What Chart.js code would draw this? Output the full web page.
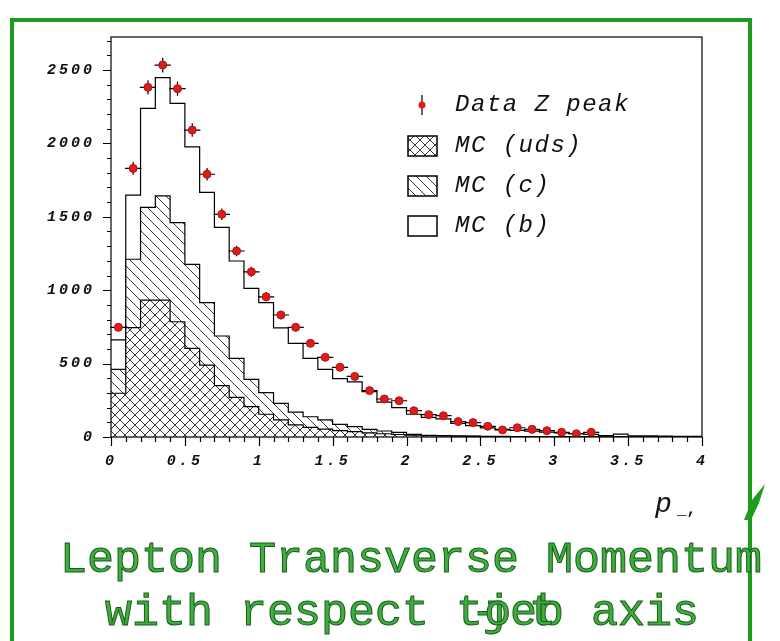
<!DOCTYPE html>
<html><head><meta charset="utf-8">
<script src="https://cdn.jsdelivr.net/npm/chart.js@4.4.0/dist/chart.umd.min.js"></script>
<style>html,body{margin:0;padding:0;background:#fff;overflow:hidden}</style>
</head><body>
<canvas id="c" width="780" height="641" style="width:780px;height:641px;display:block"></canvas>
<script>
// ---- data ----
const binWidth = 0.1;
const binLow = [0.0,0.1,0.2,0.3,0.4,0.5,0.6,0.7,0.8,0.9,1.0,1.1,1.2,1.3,1.4,1.5,1.6,1.7,1.8,1.9,
                2.0,2.1,2.2,2.3,2.4,2.5,2.6,2.7,2.8,2.9,3.0,3.1,3.2,3.3,3.4,3.5,3.6,3.7,3.8,3.9];
const mcUds = [298,745,933,933,785,604,490,350,270,207,155,116,82,66,54,44,36,28,22,17,
               12,9,7,5,4,3,3,2,2,1,1,1,0,0,0,0,0,0,0,0];
const mcC   = [163,466,632,709,675,572,425,338,266,186,147,113,88,72,62,42,34,24,19,15,
               6,3,3,3,2,2,1,1,1,1,1,0,1,1,1,0,0,0,0,0];
const mcB   = [200,437,674,806,813,801,752,740,663,620,613,514,468,398,345,311,305,257,197,168,
               137,122,113,85,71,57,48,42,37,31,26,21,17,9,19,8,8,6,5,4];
const dataX = [0.05,0.15,0.25,0.35,0.45,0.55,0.65,0.75,0.85,0.95,1.05,1.15,1.25,1.35,1.45,1.55,1.65,
               1.75,1.85,1.95,2.05,2.15,2.25,2.35,2.45,2.55,2.65,2.75,2.85,2.95,3.05,3.15,3.25];
const dataY = [747,1830,2382,2534,2373,2091,1790,1517,1267,1125,955,831,747,638,543,475,413,
               316,259,247,179,152,145,105,98,73,48,63,52,43,32,22,32];
const dataErr = [27,43,49,50,49,46,42,39,36,34,31,29,27,25,23,22,20,
                 18,16,16,13,12,12,10,10,9,7,8,7,7,6,5,6];
const xTickValues = [0,0.5,1,1.5,2,2.5,3,3.5,4];
const xTickLabels = ['0','0.5','1','1.5','2','2.5','3','3.5','4'];
const yTickValues = [0,500,1000,1500,2000,2500];
const yTickLabels = ['0','500','1000','1500','2000','2500'];
const xRange = [0,4];
const yRange = [0,2725];
const legendLabels = ['Data Z peak','MC (uds)','MC (c)','MC (b)'];
const titleLine1 = 'Lepton Transverse Momentum';
const titleLine2 = 'with respect tjeb axis';
const xAxisLabel = 'p';

// ---- helpers ----
function cumulative(...arrs){ return arrs[0].map((_,i)=>arrs.reduce((s,a)=>s+a[i],0)); }
function stepPoints(levels){
  const pts = binLow.map((x,i)=>({x:x, y:levels[i]}));
  pts.push({x: binLow[binLow.length-1]+binWidth, y: levels[levels.length-1]});
  return pts;
}
function makePattern(cross){
  const s = 10, cv = document.createElement('canvas'); cv.width = s; cv.height = s;
  const g = cv.getContext('2d');
  g.fillStyle = '#fff'; g.fillRect(0,0,s,s);
  g.strokeStyle = '#222'; g.lineWidth = 0.9;
  g.beginPath();
  g.moveTo(-1,-1); g.lineTo(s+1,s+1);
  g.moveTo(-1,s-1); g.lineTo(1,s+1);
  g.moveTo(s-1,-1); g.lineTo(s+1,1);
  if (cross){
    g.moveTo(-1,s+1); g.lineTo(s+1,-1);
    g.moveTo(-1,1); g.lineTo(1,-1);
    g.moveTo(s-1,s+1); g.lineTo(s+1,s-1);
  }
  g.stroke();
  return g.createPattern(cv,'repeat');
}
const canvas = document.getElementById('c');
const patCross = makePattern(true);
const patDiag = makePattern(false);

const lvlUds = cumulative(mcUds);
const lvlC = cumulative(mcUds, mcC);
const lvlB = cumulative(mcUds, mcC, mcB);

const tickFont = {family:"'Liberation Mono', monospace", size:15, style:'italic', weight:'bold'};

const spacingPlugin = {
  id:'spacing',
  beforeLayout(chart){ chart.ctx.letterSpacing = '3px'; },
  beforeDraw(chart){
    const c = chart.ctx; c.letterSpacing = '3px';
    c.save(); c.fillStyle = '#fff'; c.fillRect(0,0,chart.width,chart.height); c.restore();
  }
};

const errorBars = {
  id:'errorBars',
  beforeDatasetDraw(chart, args){
    if (args.index !== 3) return;
    const c = chart.ctx, xs = chart.scales.x, ys = chart.scales.y;
    c.save(); c.strokeStyle = '#000'; c.lineWidth = 1.2;
    dataX.forEach((cx,i)=>{
      const px = xs.getPixelForValue(cx), py = ys.getPixelForValue(dataY[i]);
      const x0 = xs.getPixelForValue(cx - binWidth*0.55), x1 = xs.getPixelForValue(cx + binWidth*0.55);
      const y0 = ys.getPixelForValue(dataY[i]-dataErr[i]), y1 = ys.getPixelForValue(dataY[i]+dataErr[i]);
      c.beginPath();
      c.moveTo(x0, py); c.lineTo(x1, py);
      c.moveTo(px, y0); c.lineTo(px, y1);
      c.stroke();
    });
    c.restore();
  }
};

const decor = {
  id:'decor',
  afterDraw(chart){
    const c = chart.ctx, a = chart.chartArea, xs = chart.scales.x, ys = chart.scales.y;
    c.save();
    c.letterSpacing = '0px';
    // plot frame
    c.strokeStyle = '#000'; c.lineWidth = 1.2;
    c.strokeRect(a.left, a.top, a.right-a.left, a.bottom-a.top);
    // y ticks (major every 500, minor every 100)
    c.beginPath();
    for (let k = 0; k*100 <= yRange[1]; k++){
      const py = Math.round(ys.getPixelForValue(k*100)) + 0.5;
      const len = (k % 5 === 0) ? 8 : 4;
      c.moveTo(a.left - len, py); c.lineTo(a.left, py);
    }
    // x ticks (major every 0.5, minor every 0.1)
    for (let k = 0; k <= 40; k++){
      const px = Math.round(xs.getPixelForValue(k*binWidth)) + 0.5;
      const len = (k % 5 === 0) ? 9 : 5;
      c.moveTo(px, a.bottom); c.lineTo(px, a.bottom + len);
    }
    c.stroke();

    // legend
    const lx = 408, lw = 29, lh = 20;
    const rows = [105,146,186,226];
    c.font = "italic 24px 'Liberation Mono', monospace";
    c.letterSpacing = '1.5px';
    c.fillStyle = '#111'; c.textBaseline = 'middle'; c.textAlign = 'left';
    legendLabels.forEach((t,i)=> c.fillText(t, 455, rows[i]));
    c.letterSpacing = '0px';
    // data marker
    c.strokeStyle = '#000'; c.lineWidth = 1.2;
    c.beginPath(); c.moveTo(422, rows[0]-10); c.lineTo(422, rows[0]+10); c.stroke();
    c.fillStyle = '#dd1c1c'; c.beginPath(); c.arc(422, rows[0], 3.5, 0, Math.PI*2); c.fill();
    [patCross, patDiag, '#fff'].forEach((f,i)=>{
      const y0 = rows[i+1] - lh/2;
      c.fillStyle = f; c.fillRect(lx, y0, lw, lh);
      c.strokeStyle = '#000'; c.lineWidth = 1.5; c.strokeRect(lx, y0, lw, lh);
    });

    // x axis label
    c.fillStyle = '#111';
    c.font = "italic 28px 'Liberation Mono', monospace";
    c.textBaseline = 'alphabetic';
    c.fillText(xAxisLabel, 655, 512);
    c.font = "bold 16px 'Liberation Mono', monospace";
    c.fillText('_,', 677, 514);

    // green frame
    c.strokeStyle = '#1f9b1f'; c.lineWidth = 4;
    c.beginPath(); c.moveTo(12, 645); c.lineTo(12, 20); c.lineTo(750, 20); c.lineTo(750, 645); c.stroke();
    c.fillStyle = '#1f9b1f';
    c.beginPath(); c.moveTo(744,520); c.lineTo(752,500); c.lineTo(765,484); c.lineTo(759,503); c.lineTo(751,520); c.closePath(); c.fill();

    // title
    c.font = "45px 'Liberation Mono', monospace";
    c.textAlign = 'left'; c.textBaseline = 'alphabetic';
    c.lineWidth = 1; c.strokeStyle = '#155f15'; c.fillStyle = '#40ad40';
    const drawT = (t,x,y)=>{ c.fillText(t,x,y); c.strokeText(t,x,y); };
    drawT(titleLine1, 60, 572);
    drawT(titleLine2, 105, 625);
    drawT('-', 105 + 13.55*27, 625);
    drawT('o', 105 + 14.05*27, 625);
    drawT('t', 105 + 15.7*27, 625);
    c.restore();
  }
};

new Chart(canvas, {
  type: 'scatter',
  data: {
    datasets: [
      { type:'line', data: stepPoints(lvlUds), stepped:'before', borderColor:'#000', borderWidth:1.2,
        pointRadius:0, fill:'origin', backgroundColor: patCross, order:1 },
      { type:'line', data: stepPoints(lvlC), stepped:'before', borderColor:'#000', borderWidth:1.2,
        pointRadius:0, fill:'-1', backgroundColor: patDiag, order:2 },
      { type:'line', data: stepPoints(lvlB), stepped:'before', borderColor:'#000', borderWidth:1.2,
        pointRadius:0, fill:false, order:3 },
      { type:'scatter', data: dataX.map((x,i)=>({x:x, y:dataY[i]})), pointRadius:4,
        backgroundColor:'#dd1c1c', borderColor:'#b31212', borderWidth:1, order:0 }
    ]
  },
  options: {
    responsive:false, animation:false, devicePixelRatio:1,
    layout:{ padding:{ left:0, right:78, top:37, bottom:164 } },
    plugins:{ legend:{display:false}, tooltip:{enabled:false} },
    scales:{
      x:{ type:'linear', min:xRange[0], max:xRange[1],
          grid:{display:false, drawTicks:false}, border:{display:false},
          afterBuildTicks(s){ s.ticks = xTickValues.map(v=>({value:v})); },
          afterFit(s){ s.height = 40; },
          ticks:{ font:tickFont, color:'#111', padding:15, maxRotation:0, autoSkip:false,
                  callback(v){ const i = xTickValues.indexOf(v); return i>=0 ? xTickLabels[i] : ''; } } },
      y:{ type:'linear', min:yRange[0], max:yRange[1],
          grid:{display:false, drawTicks:false}, border:{display:false},
          afterBuildTicks(s){ s.ticks = yTickValues.map(v=>({value:v})); },
          afterFit(s){ s.width = 111; },
          ticks:{ font:tickFont, color:'#111', padding:16, autoSkip:false,
                  callback(v){ const i = yTickValues.indexOf(v); return i>=0 ? yTickLabels[i] : ''; } } }
    }
  },
  plugins:[spacingPlugin, errorBars, decor]
});
</script>
</body></html>
